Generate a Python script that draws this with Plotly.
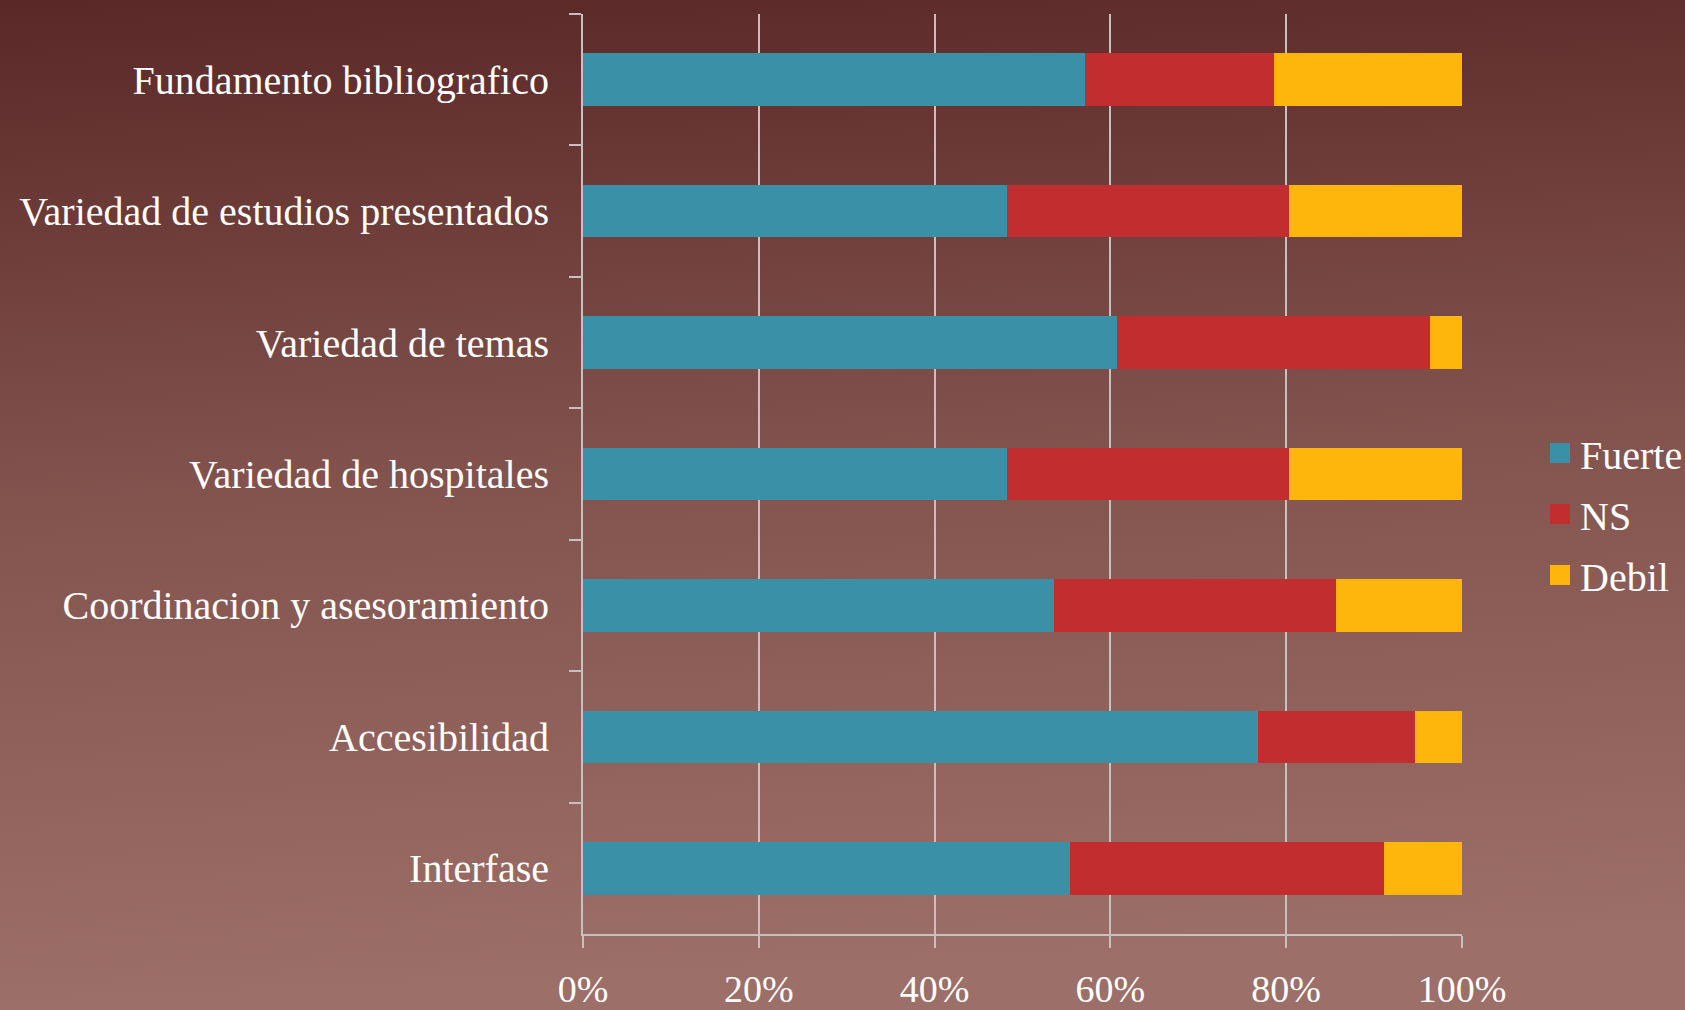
import plotly.graph_objects as go
import base64

categories = [
    "Fundamento bibliografico",
    "Variedad de estudios presentados",
    "Variedad de temas",
    "Variedad de hospitales",
    "Coordinacion y asesoramiento",
    "Accesibilidad",
    "Interfase",
]
fuerte = [57.1, 48.2, 60.7, 48.2, 53.6, 76.8, 55.4]
ns = [21.5, 32.1, 35.7, 32.1, 32.1, 17.9, 35.7]
debil = [21.4, 19.7, 3.6, 19.7, 14.3, 5.3, 8.9]
series_names = ["Fuerte", "NS", "Debil"]
series_colors = ["#3A91A7", "#C22E2F", "#FFB60C"]
x_ticks = [0, 20, 40, 60, 80, 100]
x_tick_labels = ["0%", "20%", "40%", "60%", "80%", "100%"]

FONT = "Liberation Serif"
W, H = 1685, 1010
L, R, T, B = 583, 223, 14, 76
PW, PH = W - L - R, H - T - B

svg = (
    f'<svg xmlns="http://www.w3.org/2000/svg" width="{W}" height="{H}" preserveAspectRatio="none">'
    '<defs><linearGradient id="g" x1="0" y1="0" x2="0.08" y2="1">'
    '<stop offset="0" stop-color="#5A2827"/>'
    '<stop offset="0.5" stop-color="#83544E"/>'
    '<stop offset="1" stop-color="#9D6F69"/>'
    '</linearGradient></defs>'
    f'<rect width="{W}" height="{H}" fill="url(#g)"/></svg>'
)
bg_src = "data:image/svg+xml;base64," + base64.b64encode(svg.encode()).decode()

fig = go.Figure()
for name, vals, col in zip(series_names, [fuerte, ns, debil], series_colors):
    fig.add_trace(go.Bar(
        y=categories, x=vals, name=name, orientation="h",
        marker=dict(color=col, line=dict(width=0)),
        showlegend=False,
    ))
# legend entries (larger square symbols)
for name, col in zip(series_names, series_colors):
    fig.add_trace(go.Scatter(
        x=[None], y=[None], mode="markers", name=name, legendgroup=name,
        marker=dict(symbol="square", size=16, color=col, line=dict(color=col, width=4)),
        showlegend=True, hoverinfo="skip",
    ))

fig.update_layout(
    width=W, height=H,
    barmode="stack", bargap=0.6,
    paper_bgcolor="#7A4B46", plot_bgcolor="rgba(0,0,0,0)",
    margin=dict(l=L, r=R, t=T, b=B, pad=0, autoexpand=False),
    font=dict(family=FONT, size=40, color="#FFFFFF"),
    showlegend=True,
    legend=dict(
        xref="container", yref="container",
        x=1540 / W, xanchor="left", y=1 - 514 / H, yanchor="middle",
        font=dict(family=FONT, size=40, color="#FFFFFF"),
        bgcolor="rgba(0,0,0,0)", traceorder="grouped", tracegroupgap=6,
        itemsizing="trace",
    ),
    images=[dict(
        source=bg_src, xref="paper", yref="paper",
        x=-L / PW, y=1 + T / PH, sizex=W / PW, sizey=H / PH,
        xanchor="left", yanchor="top", sizing="stretch", layer="below",
    )],
    xaxis=dict(
        range=[0, 100], tickvals=x_ticks, ticktext=x_tick_labels,
        showgrid=True, gridcolor="#C8C0BE", gridwidth=1.5,
        showline=True, linecolor="#C8C0BE", linewidth=2,
        ticks="outside", ticklen=12, tickcolor="#C8C0BE", tickwidth=1.5,
        zeroline=False, ticklabelstandoff=8, automargin=False,
        tickfont=dict(family=FONT, size=38, color="#FFFFFF"),
    ),
    yaxis=dict(
        range=[6.5, -0.5], type="category", tickson="boundaries",
        showgrid=False, showline=True, linecolor="#C8C0BE", linewidth=2,
        ticks="outside", ticklen=12, tickcolor="#C8C0BE", tickwidth=2,
        ticklabelstandoff=24, automargin=False,
        tickfont=dict(family=FONT, size=40, color="#FFFFFF"),
    ),
)

fig.write_html(
    "out.html",
    config={"displayModeBar": False},
    post_script="document.body.style.margin='0';document.body.style.overflow='hidden';",
)
